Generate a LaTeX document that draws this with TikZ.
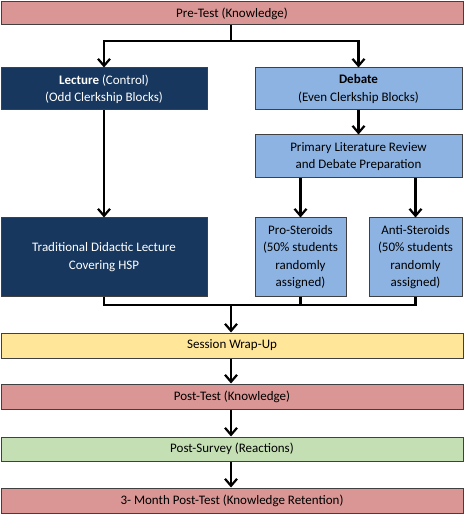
\documentclass[tikz,border=0pt]{standalone}
\usepackage{fontspec}
\setmainfont{Carlito}
\usetikzlibrary{arrows.meta}
\definecolor{pinkc}{HTML}{D99694}
\definecolor{navyc}{HTML}{17375E}
\definecolor{bluec}{HTML}{8DB3E2}
\definecolor{yellowc}{HTML}{FFE699}
\definecolor{greenc}{HTML}{C4DFB4}
\definecolor{edgec}{HTML}{404040}
\begin{document}
\begin{tikzpicture}[x=1pt,y=-1pt,
  box/.style={draw=edgec,line width=1pt,inner sep=0pt,align=center,font=\fontsize{13}{17.3}\selectfont},
  conn/.style={line width=2.2pt,-{Straight Barb[length=7pt,width=12pt,line width=2.2pt]}},
  plain/.style={line width=2.2pt}]
\useasboundingbox (0,0) rectangle (465,518);
\node[box,fill=pinkc,minimum width=462,minimum height=23] (pre) at (232,13.5) {Pre-Test (Knowledge)};
\node[box,fill=navyc,text=white,minimum width=206,minimum height=42] (lec) at (104,89) {\textbf{Lecture} (Control)\\(Odd Clerkship Blocks)};
\node[box,fill=bluec,minimum width=207,minimum height=42] (deb) at (358.5,89) {\textbf{Debate}\\(Even Clerkship Blocks)};
\node[box,fill=bluec,minimum width=207,minimum height=43] (prim) at (358.5,156.5) {Primary Literature Review\\and Debate Preparation};
\node[box,fill=navyc,text=white,minimum width=206,minimum height=78] (trad) at (104,257) {Traditional Didactic Lecture\\Covering HSP};
\node[box,fill=bluec,minimum width=91,minimum height=78] (pro) at (300.5,257) {Pro-Steroids\\(50\% students\\randomly\\assigned)};
\node[box,fill=bluec,minimum width=93,minimum height=78] (anti) at (415.5,257) {Anti-Steroids\\(50\% students\\randomly\\assigned)};
\node[box,fill=yellowc,minimum width=462,minimum height=25] (wrap) at (232,345.5) {Session Wrap-Up};
\node[box,fill=pinkc,minimum width=462,minimum height=25] (post) at (232,396.5) {Post-Test (Knowledge)};
\node[box,fill=greenc,minimum width=462,minimum height=24] (surv) at (232,449) {Post-Survey (Reactions)};
\node[box,fill=pinkc,minimum width=462,minimum height=25] (three) at (232,500.5) {3- Month Post-Test (Knowledge Retention)};
% top split
\coordinate (split) at (231,41);
\draw[plain] (pre.south -| split) -- (split);
\draw[conn] (split) -| (lec.north);
\draw[conn] (split) -| (deb.north);
\draw[conn] (deb.south) -- (prim.north);
\draw[conn] (lec.south) -- (trad.north);
\draw[conn] (prim.south -| pro) -- (pro.north);
\draw[conn] (prim.south -| anti) -- (anti.north);
% merge
\coordinate (merge) at (231,305);
\draw[plain] (trad.south) -- (trad.south |- merge) -- (anti.south |- merge) -- (anti.south);
\draw[plain] (pro.south) -- (pro.south |- merge);
\draw[conn] (merge) -- (wrap.north -| merge);
\draw[conn] (wrap.south -| merge) -- (post.north -| merge);
\draw[conn] (post.south -| merge) -- (surv.north -| merge);
\draw[conn] (surv.south -| merge) -- (three.north -| merge);
\end{tikzpicture}
\end{document}
